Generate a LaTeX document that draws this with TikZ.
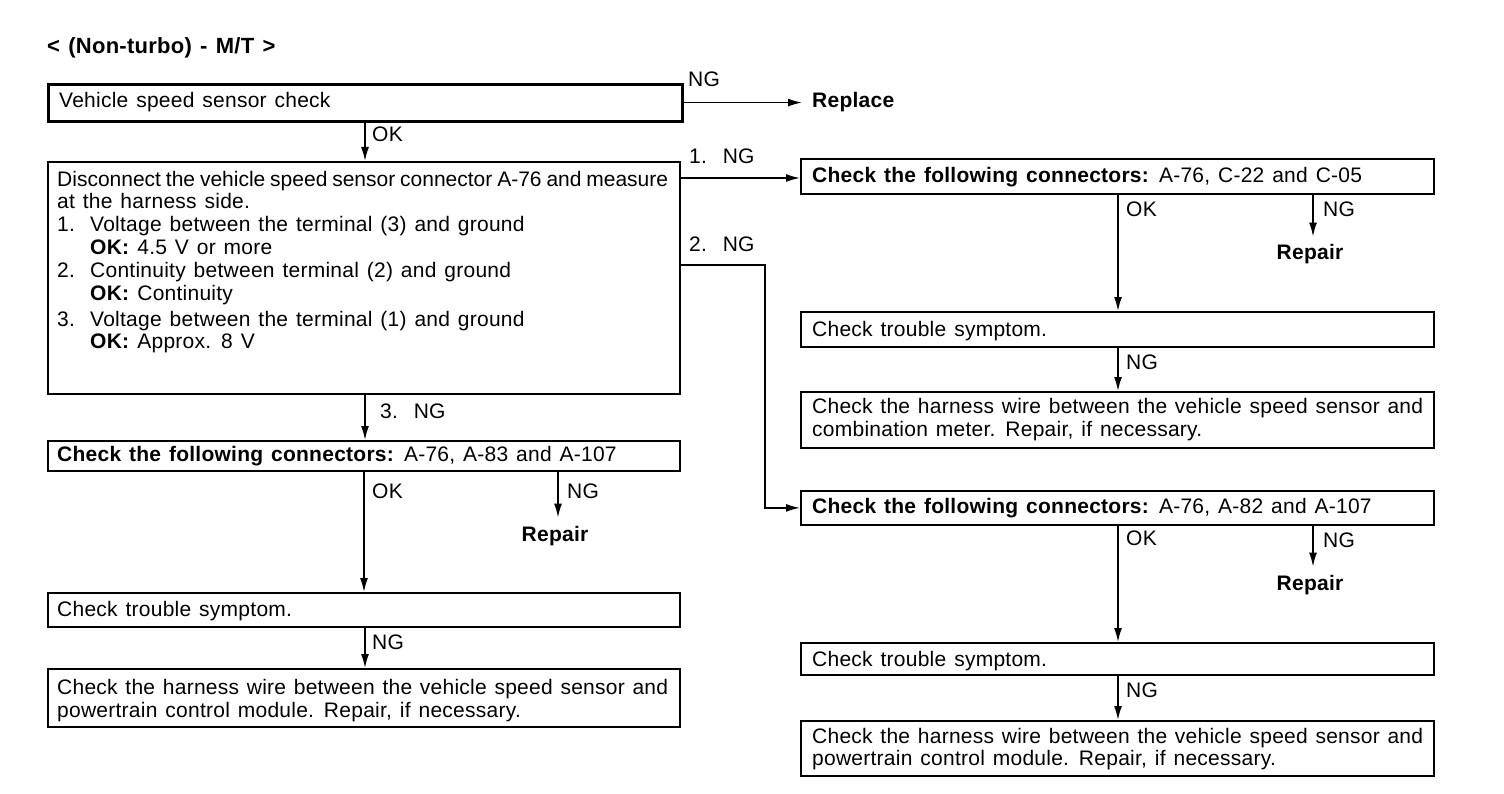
\documentclass[tikz,border=0pt]{standalone}
\usepackage{fontspec}
\setmainfont{Liberation Sans}[LetterSpace=1.2, WordSpace=1.3]
\newfontfamily\tightfont{Liberation Sans}
\usetikzlibrary{arrows.meta}
\begin{document}
\begin{tikzpicture}[x=1pt,y=-1pt,
  box/.style={draw, line width=1.8pt, anchor=north west, inner sep=0pt},
  txt/.style={anchor=base west, inner sep=0pt, font=\fontsize{21}{23}\selectfont},
  bld/.style={txt, font=\fontsize{21}{23}\selectfont\bfseries},
  rep/.style={anchor=base, inner xsep=0pt, inner ysep=8pt, font=\fontsize{21}{23}\selectfont\bfseries},
  arr/.style={line width=1.6pt, -{Latex[length=14pt,width=8pt]}},
]
\useasboundingbox (0,0) rectangle (1504,794);

% title
\node[txt, font=\fontsize{22}{24}\selectfont\bfseries] (title) at (47,54) {< (Non-turbo) - M/T >};

% left column boxes
\node[box, line width=2.8pt, minimum width=634pt, minimum height=37pt] (b1) at (47,83) {};
\node[box, minimum width=632pt, minimum height=232pt] (b2) at (47,161) {};
\node[box, minimum width=632pt, minimum height=30pt] (b3) at (47,440) {};
\node[box, minimum width=632pt, minimum height=34pt] (b4) at (47,592) {};
\node[box, minimum width=632pt, minimum height=58pt] (b5) at (47,668) {};

% right column boxes
\node[box, minimum width=633pt, minimum height=35pt] (ra) at (800,158) {};
\node[box, minimum width=633pt, minimum height=35pt] (rb) at (800,311) {};
\node[box, minimum width=633pt, minimum height=56pt] (rc) at (800,391) {};
\node[box, minimum width=633pt, minimum height=34pt] (rd) at (800,490) {};
\node[box, minimum width=633pt, minimum height=32pt] (re) at (800,642) {};
\node[box, minimum width=633pt, minimum height=55pt] (rf) at (800,720) {};

% texts left
\node[txt] (t1) at (59,108) {Vehicle speed sensor check};
\node[txt] (t2a) at (57,187) {\tightfont\makebox[611pt][s]{Disconnect the vehicle speed sensor connector A-76 and measure}};
\node[txt] (t2b) at (57,209) {at the harness side.};
\node[txt] (t2c) at (57,232) {1.};
\node[txt] (t2d) at (90,232) {Voltage between the terminal (3) and ground};
\node[txt] (t2e) at (90,255) {\textbf{OK:} 4.5 V or more};
\node[txt] (t2f) at (57,278) {2.};
\node[txt] (t2g) at (90,278) {Continuity between terminal (2) and ground};
\node[txt] (t2h) at (90,301) {\textbf{OK:} Continuity};
\node[txt] (t2i) at (57,326) {3.};
\node[txt] (t2j) at (90,326) {Voltage between the terminal (1) and ground};
\node[txt] (t2k) at (90,348) {\textbf{OK:} Approx. 8 V};
\node[txt] (t3) at (57,461) {\textbf{Check the following connectors:} A-76, A-83 and A-107};
\node[txt] (t4) at (57,616) {Check trouble symptom.};
\node[txt] (t5a) at (57,694) {\makebox[611pt][s]{Check the harness wire between the vehicle speed sensor and}};
\node[txt] (t5b) at (57,717) {powertrain control module. Repair, if necessary.};

% texts right
\node[txt] (ta) at (812,183) {\textbf{Check the following connectors:} A-76, C-22 and C-05};
\node[txt] (tb) at (812,336) {Check trouble symptom.};
\node[txt] (tca) at (812,413) {\makebox[611pt][s]{Check the harness wire between the vehicle speed sensor and}};
\node[txt] (tcb) at (812,436) {combination meter. Repair, if necessary.};
\node[txt] (td) at (812,513) {\textbf{Check the following connectors:} A-76, A-82 and A-107};
\node[txt] (te) at (812,666) {Check trouble symptom.};
\node[txt] (tfa) at (812,743) {\makebox[611pt][s]{Check the harness wire between the vehicle speed sensor and}};
\node[txt] (tfb) at (812,765) {powertrain control module. Repair, if necessary.};

% end nodes
\node[bld, inner xsep=10pt] (replace) at (802,108) {Replace};
\node[rep] (rp1) at (555,541) {Repair};
\node[rep] (rpa) at (1310,260) {Repair};
\node[rep] (rpb) at (1310,590) {Repair};

% labels
\node[txt] (l1) at (688,87) {NG};
\node[txt] (l2) at (372,142) {OK};
\node[txt] (l3) at (689,164) {1.\ \ NG};
\node[txt] (l4) at (689,252) {2.\ \ NG};
\node[txt] (l5) at (380,418) {3.\ \ NG};
\node[txt] (l6) at (372,498) {OK};
\node[txt] (l7) at (567,498) {NG};
\node[txt] (l8) at (372,649) {NG};
\node[txt] (l9) at (1126,217) {OK};
\node[txt] (l10) at (1323,217) {NG};
\node[txt] (l11) at (1126,369) {NG};
\node[txt] (l12) at (1126,545) {OK};
\node[txt] (l13) at (1323,547) {NG};
\node[txt] (l14) at (1126,697) {NG};

% connectors
\draw[arr] (b1.east |- replace.west) -- (replace.west);
\draw[arr] (b1.south -| 365,0) -- (b2.north -| 365,0);
\draw[arr] (b2.east |- 0,178) -- (ra.west |- 0,178);
\coordinate (bend) at (765,265);
\draw[arr] (b2.east |- bend) -- (bend) |- (rd.west);
\draw[arr] (b2.south -| 365,0) -- (b3.north -| 365,0);
\draw[arr] (b3.south -| 364,0) -- (b4.north -| 364,0);
\draw[arr] (b3.south -| 558,0) -- (rp1.north -| 558,0);
\draw[arr] (b4.south -| 365,0) -- (b5.north -| 365,0);
\draw[arr] (ra.south -| 1118,0) -- (rb.north -| 1118,0);
\draw[arr] (ra.south -| 1313,0) -- (rpa.north -| 1313,0);
\draw[arr] (rb.south -| 1118,0) -- (rc.north -| 1118,0);
\draw[arr] (rd.south -| 1118,0) -- (re.north -| 1118,0);
\draw[arr] (rd.south -| 1313,0) -- (rpb.north -| 1313,0);
\draw[arr] (re.south -| 1118,0) -- (rf.north -| 1118,0);
\end{tikzpicture}
\end{document}
